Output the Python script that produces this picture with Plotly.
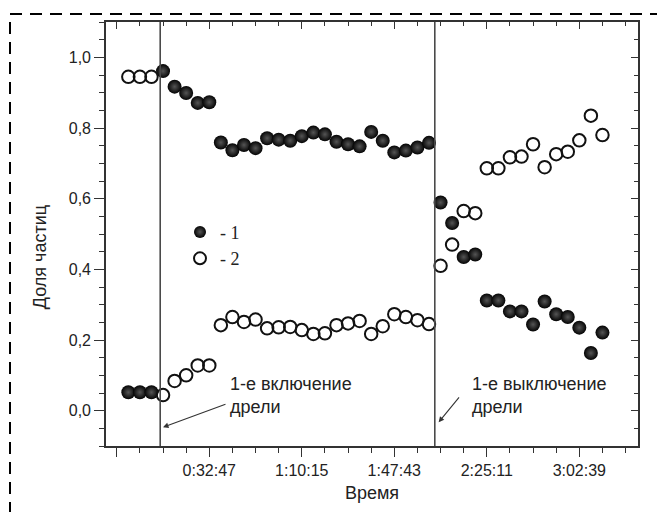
import plotly.graph_objects as go

# Sampling times (H:MM:SS) and particle fractions for the two particle types
times = [
    "0:00:00", "0:04:41", "0:09:22", "0:14:03", "0:18:44", "0:23:25", "0:28:06",
    "0:32:47", "0:37:28", "0:42:09", "0:46:50", "0:51:31", "0:56:12", "1:00:53",
    "1:05:34", "1:10:15", "1:14:56", "1:19:37", "1:24:18", "1:28:59", "1:33:40",
    "1:38:21", "1:43:02", "1:47:43", "1:52:24", "1:57:05", "2:01:46", "2:06:27",
    "2:11:08", "2:15:49", "2:20:30", "2:25:11", "2:29:52", "2:34:33", "2:39:14",
    "2:43:55", "2:48:36", "2:53:17", "2:57:58", "3:02:39", "3:07:20", "3:12:01",
]
share_1 = [
    0.052, 0.052, 0.052, 0.961, 0.917, 0.899, 0.871, 0.873, 0.759, 0.737,
    0.752, 0.743, 0.771, 0.767, 0.764, 0.777, 0.787, 0.782, 0.761, 0.754,
    0.748, 0.789, 0.764, 0.731, 0.736, 0.745, 0.758, 0.589, 0.531, 0.435,
    0.442, 0.312, 0.312, 0.281, 0.281, 0.244, 0.309, 0.273, 0.265, 0.235,
    0.163, 0.221,
]
share_2 = [
    0.945, 0.945, 0.945, 0.044, 0.084, 0.100, 0.128, 0.128, 0.242, 0.265,
    0.251, 0.258, 0.233, 0.236, 0.237, 0.228, 0.217, 0.219, 0.242, 0.247,
    0.254, 0.217, 0.239, 0.273, 0.265, 0.256, 0.245, 0.410, 0.470, 0.565,
    0.559, 0.686, 0.686, 0.717, 0.719, 0.754, 0.689, 0.726, 0.733, 0.765,
    0.835, 0.780,
]
series_names = ["- 1", "- 2"]

# Drill switch-on / switch-off moments
drill_on = "0:12:54"
drill_off = "2:04:07"

# Axis ticks
x_major = ["-0:04:41", "0:32:47", "1:10:15", "1:47:43", "2:25:11", "3:02:39"]
x_major_text = ["", "0:32:47", "1:10:15", "1:47:43", "2:25:11", "3:02:39"]
x_minor_step = "0:09:22"
x_limits = ["-0:09:03", "3:26:25"]
y_major = [0.0, 0.2, 0.4, 0.6, 0.8, 1.0]
y_limits = [-0.1, 1.1]


def to_sec(s):
    sign = -1 if s.startswith("-") else 1
    h, m, sec = (int(v) for v in s.lstrip("-").split(":"))
    return sign * (h * 3600 + m * 60 + sec)


t = [to_sec(s) for s in times]
t_on, t_off = to_sec(drill_on), to_sec(drill_off)
xr = [to_sec(s) for s in x_limits]
xt = [to_sec(s) for s in x_major]
step = to_sec(x_minor_step)

W, H = 657, 512
ML, MR, MT, MB = 106, 19, 22, 61
PW, PH = W - ML - MR, H - MT - MB

TXT = "#222222"
AX = "#333333"
sans = "Liberation Sans, Arial, sans-serif"


def px_x(p):
    return (p - ML) / PW


def px_y(p):
    return (H - MB - p) / PH


fig = go.Figure()
fig.add_trace(go.Scatter(
    x=t, y=share_1, mode="markers", name=series_names[0],
    marker=dict(symbol="circle", size=14, color="#030303",
                gradient=dict(type="radial", color="#555555"),
                line=dict(width=0)),
))
fig.add_trace(go.Scatter(
    x=t, y=share_2, mode="markers", name=series_names[1],
    marker=dict(symbol="circle-open", size=12.5, color="#111111",
                line=dict(width=2, color="#111111")),
))
# helper trace so the mirrored top/right axes are drawn
fig.add_trace(go.Scatter(x=[None], y=[None], xaxis="x2", yaxis="y2",
                         showlegend=False, hoverinfo="skip"))

# drill on/off vertical lines
for tv in (t_on, t_off):
    fig.add_shape(type="line", xref="x", yref="paper", x0=tv, x1=tv, y0=0, y1=1,
                  line=dict(color="#4a4a4a", width=1.6))

# dashed outer frame
fig.add_shape(type="rect", xref="paper", yref="paper",
              x0=px_x(10), x1=px_x(670), y0=px_y(14), y1=px_y(530),
              line=dict(color="#000000", width=2, dash="12px,8px"), layer="above")

# annotations with arrows
fig.add_annotation(x=842, y=-0.047, ax=2397, ay=0.020, axref="x", ayref="y",
                   xref="x", yref="y", text="", showarrow=True,
                   arrowhead=2, arrowsize=1, arrowwidth=1.1, arrowcolor="#333")
fig.add_annotation(x=7541, y=-0.033, ax=8066, ay=0.042, axref="x", ayref="y",
                   xref="x", yref="y", text="", showarrow=True,
                   arrowhead=2, arrowsize=1, arrowwidth=1.1, arrowcolor="#333")
fig.add_annotation(x=2421, y=0.042, xref="x", yref="y", xanchor="left",
                   yanchor="middle", align="left", showarrow=False,
                   text="1-е включение<br>дрели",
                   font=dict(family=sans, size=18, color=TXT))
fig.add_annotation(x=8302, y=0.042, xref="x", yref="y", xanchor="left",
                   yanchor="middle", align="left", showarrow=False,
                   text="1-е выключение<br>дрели",
                   font=dict(family=sans, size=18, color=TXT))

# y-axis title
fig.add_annotation(x=px_x(40), y=px_y(260), xref="paper", yref="paper",
                   text="Доля частиц", textangle=-90, showarrow=False,
                   xanchor="center", yanchor="middle",
                   font=dict(family=sans, size=18, color=TXT))

fig.update_layout(
    width=W, height=H,
    margin=dict(l=ML, r=MR, t=MT, b=MB, pad=0),
    paper_bgcolor="white", plot_bgcolor="white",
    separators=", ",
    font=dict(family=sans, size=16, color=TXT),
    showlegend=True,
    legend=dict(x=px_x(180), y=px_y(216), xanchor="left", yanchor="top",
                bgcolor="rgba(0,0,0,0)", borderwidth=0,
                font=dict(family="Liberation Serif, Times New Roman, serif",
                          size=18, color=TXT),
                itemsizing="constant", tracegroupgap=0),
    xaxis=dict(
        range=xr, showgrid=False, zeroline=False,
        showline=True, linecolor=AX, linewidth=1.6,
        tickmode="array", tickvals=xt, ticktext=x_major_text,
        ticks="outside", ticklen=9, tickwidth=1.4, tickcolor=AX,
        tickfont=dict(size=16, color=TXT),
        minor=dict(tickmode="linear", tick0=xt[0], dtick=step,
                   ticks="outside", ticklen=5, tickwidth=1.2, tickcolor=AX),
        title=dict(text="Время", font=dict(size=18, color=TXT), standoff=8),
    ),
    yaxis=dict(
        range=y_limits, showgrid=False, zeroline=False,
        showline=True, linecolor=AX, linewidth=1.6,
        tickmode="array", tickvals=y_major, tickformat=".1f",
        ticks="outside", ticklen=10, tickwidth=1.4, tickcolor=AX,
        tickfont=dict(size=16, color=TXT),
        minor=dict(tickmode="linear", tick0=0, dtick=0.05,
                   ticks="outside", ticklen=5, tickwidth=1.2, tickcolor=AX),
    ),
    xaxis2=dict(
        overlaying="x", matches="x", side="top", anchor="y2",
        range=xr, showgrid=False, zeroline=False, showticklabels=False,
        showline=True, linecolor=AX, linewidth=1.6,
        tickmode="array", tickvals=xt,
        ticks="inside", ticklen=7, tickwidth=1.4, tickcolor=AX,
        minor=dict(tickmode="linear", tick0=xt[0], dtick=step,
                   ticks="inside", ticklen=4, tickwidth=1.2, tickcolor=AX),
    ),
    yaxis2=dict(
        overlaying="y", matches="y", side="right", anchor="x2",
        range=y_limits, showgrid=False, zeroline=False, showticklabels=False,
        showline=True, linecolor=AX, linewidth=1.6,
        tickmode="array", tickvals=y_major,
        ticks="inside", ticklen=7, tickwidth=1.4, tickcolor=AX,
        minor=dict(tickmode="linear", tick0=0, dtick=0.05,
                   ticks="inside", ticklen=4, tickwidth=1.2, tickcolor=AX),
    ),
)

fig.write_html("out.html")
